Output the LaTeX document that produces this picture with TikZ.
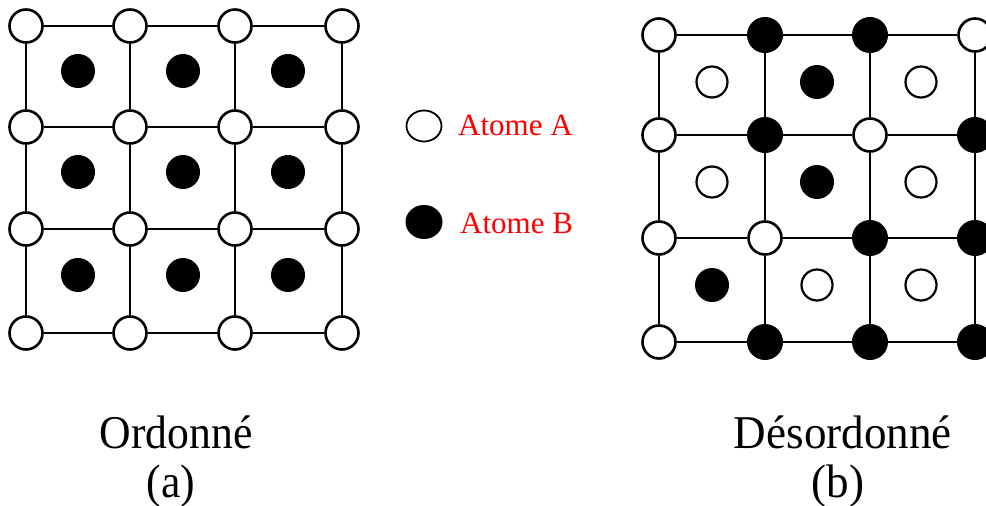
\documentclass[tikz,border=0pt]{standalone}
\usepackage{fontspec}
\setmainfont{Liberation Serif}
\usepackage{graphicx}
\usetikzlibrary{shapes.geometric}
\begin{document}
\begin{tikzpicture}[x=1pt,y=-1pt,
  atomA/.style={circle,draw,line width=2.6pt,fill=white,minimum size=33pt,inner sep=0pt},
  atomB/.style={circle,draw,line width=2pt,fill=black,minimum size=34pt,inner sep=0pt},
  dotB/.style={circle,draw,line width=2pt,fill=black,minimum size=32pt,inner sep=0pt},
  innerA/.style={circle,draw,line width=2.2pt,fill=white,minimum size=31pt,inner sep=0pt},
  bond/.style={line width=2.4pt},
  legtext/.style={text=red,font=\fontsize{31}{37}\selectfont,anchor=base west,inner sep=0pt},
  captxt/.style={font=\fontsize{47}{56}\selectfont,anchor=base,inner sep=0pt}]
\useasboundingbox (0,0) rectangle (986,506);
\clip (0,0) rectangle (986,506);

% ---------- (a) ordered lattice ----------
\foreach \x [count=\i] in {26,130,235,342}{
  \foreach \y [count=\j] in {26,127,229,333}{
    \node[atomA] (La\i\j) at (\x,\y) {};
  }
}
\foreach \i in {1,...,4}{
  \foreach \j in {1,2,3}{
    \pgfmathtruncatemacro\k{\j+1}
    \draw[bond] (La\i\j) -- (La\i\k);
    \draw[bond] (La\j\i) -- (La\k\i);
  }
}
\foreach \x [count=\i] in {78,183,288}{
  \foreach \y [count=\j] in {71,172,275}{
    \node[dotB] (Lb\i\j) at (\x,\y) {};
  }
}

% ---------- (b) disordered lattice ----------
\foreach \i/\x in {1/659,2/765,3/870,4/975}{
  \foreach \j/\y in {1/35,2/135,3/238,4/342}{
    \coordinate (Rp\i\j) at (\x,\y);
  }
}
\foreach \i/\j/\t in {1/1/A,2/1/B,3/1/B,4/1/A,
                      1/2/A,2/2/B,3/2/A,4/2/B,
                      1/3/A,2/3/A,3/3/B,4/3/B,
                      1/4/A,2/4/B,3/4/B,4/4/B}{
  \node[atom\t] (Ra\i\j) at (Rp\i\j) {};
}
\foreach \i in {1,...,4}{
  \foreach \j in {1,2,3}{
    \pgfmathtruncatemacro\k{\j+1}
    \draw[bond] (Ra\i\j) -- (Ra\i\k);
    \draw[bond] (Ra\j\i) -- (Ra\k\i);
  }
}
\foreach \i/\x in {1/712,2/817,3/921}{
  \foreach \j/\y in {1/82,2/182,3/285}{
    \coordinate (Rq\i\j) at (\x,\y);
  }
}
\foreach \i/\j/\t in {1/1/innerA,2/1/dotB,3/1/innerA,
                      1/2/innerA,2/2/dotB,3/2/innerA,
                      1/3/dotB,2/3/innerA,3/3/innerA}{
  \node[\t] (Rb\i\j) at (Rq\i\j) {};
}

% ---------- legend ----------
\node[ellipse,draw,line width=1.8pt,minimum width=35pt,minimum height=31pt,inner sep=0pt] (legA) at (424,126) {};
\node[legtext] (txtA) at (458,135) {Atome A};
\node[ellipse,fill=black,minimum width=37pt,minimum height=34pt,inner sep=0pt] (legB) at (424,222) {};
\node[legtext] (txtB) at (460,233) {Atome B};

% ---------- captions ----------
\node[captxt] (capA) at (176,448) {\scalebox{0.93}[1]{Ordonné}};
\node[captxt] (labA) at (171,497) {\scalebox{0.93}[1]{(a)}};
\node[captxt] (capB) at (843,448) {\scalebox{0.96}[1]{Désordonné}};
\node[captxt] (labB) at (838,497) {\scalebox{0.96}[1]{(b)}};
\end{tikzpicture}
\end{document}
